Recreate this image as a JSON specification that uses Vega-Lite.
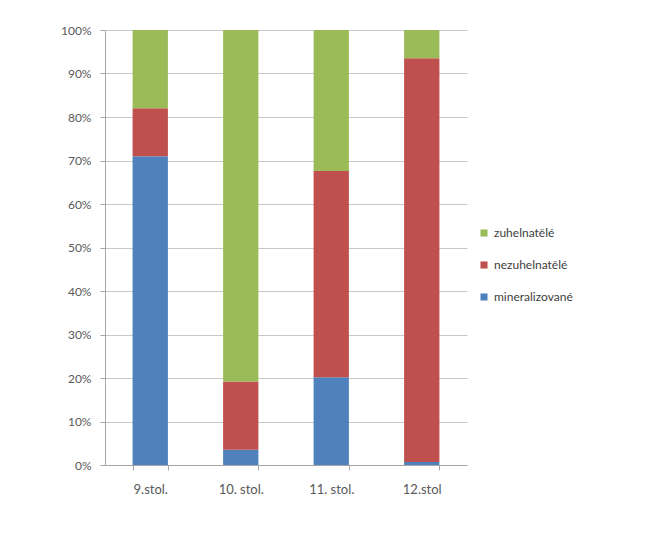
{
  "$schema": "https://vega.github.io/schema/vega-lite/v6.json",
  "width": 362,
  "height": 435,
  "autosize": {"type": "none"},
  "padding": {"left": 105, "top": 30, "right": 187, "bottom": 69},
  "background": "white",
  "config": {
    "view": {"stroke": null},
    "font": "Lato",
    "axis": {"labelFont": "Lato", "labelColor": "#595959", "labelFontSize": 12, "domainColor": "#a6a6a6", "tickColor": "#a6a6a6", "gridColor": "#c8c8c8"},
    "legend": {"labelFont": "Lato", "labelColor": "#404040", "labelFontSize": 12}
  },
  "data": {
    "values": [
      {"stol": "9.stol.", "typ": "mineralizované", "podil": 71},
      {"stol": "9.stol.", "typ": "nezuhelnatělé", "podil": 11},
      {"stol": "9.stol.", "typ": "zuhelnatělé", "podil": 18},
      {"stol": "10. stol.", "typ": "mineralizované", "podil": 3.5},
      {"stol": "10. stol.", "typ": "nezuhelnatělé", "podil": 15.7},
      {"stol": "10. stol.", "typ": "zuhelnatělé", "podil": 80.8},
      {"stol": "11. stol.", "typ": "mineralizované", "podil": 20.2},
      {"stol": "11. stol.", "typ": "nezuhelnatělé", "podil": 47.4},
      {"stol": "11. stol.", "typ": "zuhelnatělé", "podil": 32.4},
      {"stol": "12.stol", "typ": "mineralizované", "podil": 0.7},
      {"stol": "12.stol", "typ": "nezuhelnatělé", "podil": 92.8},
      {"stol": "12.stol", "typ": "zuhelnatělé", "podil": 6.5}
    ]
  },
  "mark": {"type": "bar"},
  "encoding": {
    "x": {
      "field": "stol",
      "type": "nominal",
      "sort": null,
      "scale": {"paddingInner": 0.61, "paddingOuter": 0.305},
      "axis": {"title": null, "labelAngle": 0, "labelFontSize": 13, "tickBand": "extent", "tickSize": 5, "labelPadding": 13, "grid": false}
    },
    "y": {
      "field": "podil",
      "type": "quantitative",
      "stack": "normalize",
      "scale": {"domain": [0, 1]},
      "axis": {"title": null, "format": ".0%", "values": [0, 0.1, 0.2, 0.3, 0.4, 0.5, 0.6, 0.7, 0.8, 0.9, 1], "tickSize": 5, "labelPadding": 9, "grid": true}
    },
    "color": {
      "field": "typ",
      "type": "nominal",
      "scale": {"domain": ["zuhelnatělé", "nezuhelnatělé", "mineralizované"], "range": ["#9BBB59", "#C0504D", "#4F81BD"]},
      "legend": {"title": null, "orient": "none", "legendX": 373, "legendY": 197, "symbolType": "square", "symbolSize": 50, "symbolStrokeWidth": 0, "rowPadding": 20, "labelOffset": 4}
    },
    "order": {"field": "typ", "sort": "ascending"}
  }
}
